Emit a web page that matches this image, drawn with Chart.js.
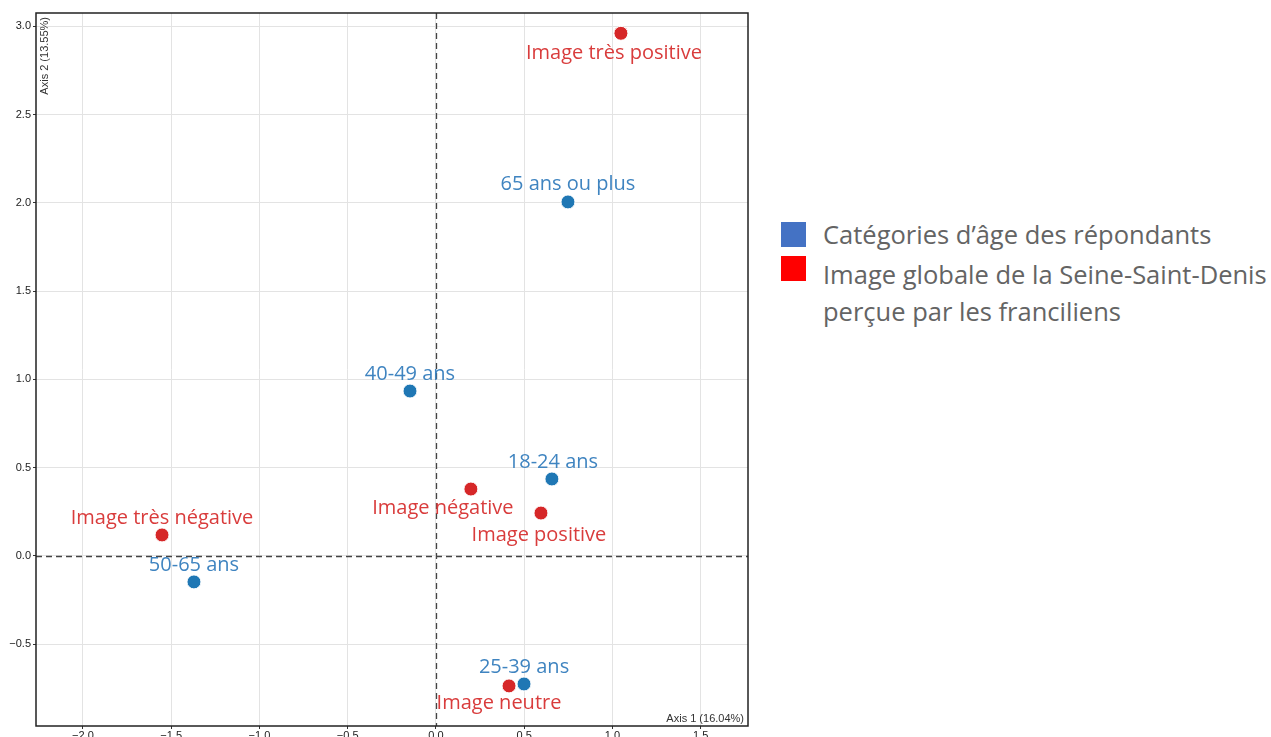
<!DOCTYPE html>
<html>
<head>
<meta charset="utf-8">
<script src="https://cdn.jsdelivr.net/npm/chart.js@4"></script>
<style>
  body { margin: 0; background: #fff; width: 1271px; height: 737px; overflow: hidden; position: relative; font-family: "Open Sans", sans-serif; }
  #wrap { position: absolute; left: 0; top: 0; width: 760px; height: 737px; }
  .legend { position: absolute; left: 781px; color: #646464; font-size: 25.5px; line-height: 37px; }
  .legend .sq { position: absolute; left: 0; width: 25px; height: 25px; }
  .legend .txt { position: absolute; left: 42px; white-space: nowrap; }
</style>
</head>
<body>
<div id="wrap"><canvas id="caCanvas"></canvas></div>

<div class="legend" style="top:222px">
  <div class="sq" style="background:#4472c4"></div>
  <div class="txt" style="top:-6px">Catégories d’âge des répondants</div>
</div>
<div class="legend" style="top:256px">
  <div class="sq" style="background:#ff0000"></div>
  <div class="txt" style="top:0px">Image globale de la Seine-Saint-Denis<br>perçue par les franciliens</div>
</div>

<script>
// age groups of the respondents (blue)
const ageLabels = ['65 ans ou plus', '40-49 ans', '18-24 ans', '50-65 ans', '25-39 ans'];
const ageX = [0.748, -0.147, 0.657, -1.371, 0.499];
const ageY = [2.005, 0.934, 0.436, -0.147, -0.725];

// global image of Seine-Saint-Denis (red)
const imageLabels = ['Image très positive', 'Image négative', 'Image positive', 'Image très négative', 'Image neutre'];
const imageX = [1.048, 0.198, 0.595, -1.552, 0.414];
const imageY = [2.96, 0.379, 0.243, 0.119, -0.736];

const axis1Title = 'Axis 1 (16.04%)';
const axis2Title = 'Axis 2 (13.55%)';

// where each label goes, relative to its point (pixels)
const ageLabelOffset = [[0, -18], [0, -17], [1, -17], [0, -17], [0, -17]];
const imageLabelOffset = [[-7, 20], [-28, 19], [-2, 22], [0, -17], [-10, 17]];

function toPoints(xs, ys) {
    return xs.map((x, i) => ({x: x, y: ys[i]}));
}

function fmtTick(v) {
    const s = Math.abs(v).toFixed(1);
    return v < -1e-9 ? '\u2212' + s : s;
}

// draws the box, the dashed zero lines, the axis titles and the point labels
const extrasPlugin = {
    id: 'extras',
    beforeDatasetsDraw(chart) {
        const ctx = chart.ctx;
        const a = chart.chartArea;
        const xs = chart.scales.x, ys = chart.scales.y;
        ctx.save();
        ctx.strokeStyle = '#444';
        ctx.lineWidth = 1.3;
        ctx.setLineDash([6, 4]);
        const x0 = Math.round(xs.getPixelForValue(0)) + 0.5;
        const y0 = Math.round(ys.getPixelForValue(0)) + 0.5;
        ctx.beginPath();
        ctx.moveTo(x0, a.top); ctx.lineTo(x0, a.bottom);
        ctx.moveTo(a.left, y0); ctx.lineTo(a.right, y0);
        ctx.stroke();
        ctx.restore();
    },
    afterDatasetsDraw(chart) {
        const ctx = chart.ctx;
        const a = chart.chartArea;
        ctx.save();
        ctx.strokeStyle = '#222';
        ctx.lineWidth = 1.5;
        ctx.strokeRect(a.left, a.top, a.right - a.left, a.bottom - a.top);

        ctx.fillStyle = '#333';
        ctx.font = '11px "Liberation Sans", Arial, sans-serif';
        ctx.textAlign = 'right';
        ctx.textBaseline = 'bottom';
        ctx.fillText(axis1Title, a.right - 4, a.bottom - 2);
        ctx.translate(a.left + 9, a.top + 4);
        ctx.rotate(-Math.PI / 2);
        ctx.textAlign = 'right';
        ctx.textBaseline = 'middle';
        ctx.fillText(axis2Title, 0, 0);
        ctx.restore();

        ctx.save();
        ctx.font = '20px "Open Sans", sans-serif';
        ctx.textAlign = 'center';
        ctx.textBaseline = 'middle';
        const groups = [
            {meta: chart.getDatasetMeta(0), labels: ageLabels, off: ageLabelOffset, color: '#3f84c0'},
            {meta: chart.getDatasetMeta(1), labels: imageLabels, off: imageLabelOffset, color: '#d93c3c'}
        ];
        groups.forEach(g => {
            ctx.fillStyle = g.color;
            g.meta.data.forEach((pt, i) => {
                ctx.fillText(g.labels[i], pt.x + g.off[i][0], pt.y + g.off[i][1]);
            });
        });
        ctx.restore();
    }
};

document.addEventListener('DOMContentLoaded', function() {
    const ctx = document.getElementById('caCanvas').getContext('2d');
    new Chart(ctx, {
        type: 'scatter',
        data: {
            datasets: [{
                label: 'Catégories d’âge des répondants',
                data: toPoints(ageX, ageY),
                backgroundColor: '#1f77b4',
                borderColor: '#ffffff',
                borderWidth: 1,
                pointRadius: 7,
                pointHoverRadius: 7
            }, {
                label: 'Image globale de la Seine-Saint-Denis perçue par les franciliens',
                data: toPoints(imageX, imageY),
                backgroundColor: '#d62728',
                borderColor: '#ffffff',
                borderWidth: 1,
                pointRadius: 7,
                pointHoverRadius: 7
            }]
        },
        options: {
            responsive: true,
            maintainAspectRatio: false,
            animation: false,
            layout: { padding: { top: 13, right: 12, left: 0, bottom: 0 } },
            plugins: {
                legend: { display: false },
                tooltip: { enabled: false }
            },
            scales: {
                x: {
                    type: 'linear',
                    min: -2.266,
                    max: 1.768,
                    afterFit: s => { s.height = 11; },
                    border: { display: false },
                    grid: { color: '#e3e3e3', lineWidth: 1, tickLength: 3, tickColor: '#333' },
                    ticks: {
                        stepSize: 0.5,
                        includeBounds: false,
                        padding: 0,
                        maxRotation: 0,
                        color: '#222',
                        font: { size: 11, family: '"Liberation Sans", Arial, sans-serif' },
                        callback: v => fmtTick(v)
                    }
                },
                y: {
                    type: 'linear',
                    min: -0.963,
                    max: 3.075,
                    afterFit: s => { s.width = 36; },
                    border: { display: false },
                    grid: { color: '#e3e3e3', lineWidth: 1, tickLength: 3, tickColor: '#333' },
                    ticks: {
                        stepSize: 0.5,
                        includeBounds: false,
                        padding: 2,
                        color: '#222',
                        font: { size: 11, family: '"Liberation Sans", Arial, sans-serif' },
                        callback: v => fmtTick(v)
                    }
                }
            }
        },
        plugins: [extrasPlugin]
    });
});
</script>
</body>
</html>
